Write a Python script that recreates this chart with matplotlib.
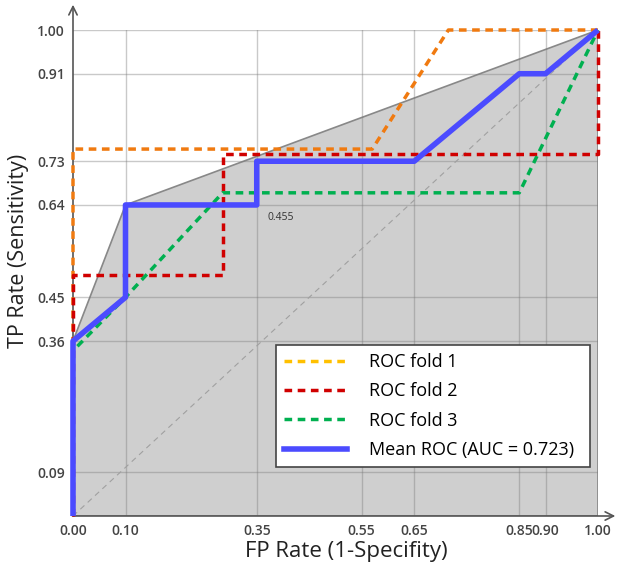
import matplotlib
matplotlib.use("Agg")
import matplotlib.pyplot as plt
from matplotlib.lines import Line2D
from matplotlib.patches import FancyArrowPatch

plt.rcParams['font.family'] = ['Open Sans', 'DejaVu Sans']

# Data
x_ticks = [0.00, 0.10, 0.35, 0.55, 0.65, 0.85, 0.90, 1.00]
y_ticks = [0.09, 0.36, 0.45, 0.64, 0.73, 0.91, 1.00]

fold1_fpr = [0.0, 0.0, 0.57, 0.715, 1.0]
fold1_tpr = [0.0, 0.755, 0.755, 1.0, 1.0]

fold2_fpr = [0.0, 0.0, 0.285, 0.285, 1.0, 1.0]
fold2_tpr = [0.0, 0.495, 0.495, 0.745, 0.745, 1.0]

fold3_fpr = [0.0, 0.0, 0.10, 0.285, 0.85, 1.0]
fold3_tpr = [0.0, 0.34, 0.45, 0.665, 0.665, 1.0]

mean_fpr = [0.0, 0.0, 0.10, 0.10, 0.35, 0.35, 0.65, 0.85, 0.90, 1.0]
mean_tpr = [0.0, 0.36, 0.45, 0.64, 0.64, 0.73, 0.73, 0.91, 0.91, 1.0]

hull_fpr = [0.0, 0.0, 0.10, 1.0, 1.0]
hull_tpr = [0.0, 0.36, 0.64, 1.0, 0.0]

labels = ["ROC fold 1", "ROC fold 2", "ROC fold 3", "Mean ROC (AUC = 0.723)"]
annot_text = "0.455"
annot_pos = (0.37, 0.625)

fig = plt.figure(figsize=(6.2, 5.68), dpi=100)
ax = fig.add_axes([73/620, 1-516/568, 525/620, 486/568])
ax.set_xlim(0, 1)
ax.set_ylim(0, 1)

# gray convex hull area
ax.fill(hull_fpr, hull_tpr, facecolor='#cfcfcf', edgecolor='#888888', lw=1.2, zorder=1)

# grid
for xv in x_ticks[1:]:
    ax.axvline(xv, color='#7a7a7a', alpha=0.4, lw=1.0, zorder=1.5)
for yv in y_ticks:
    ax.axhline(yv, color='#7a7a7a', alpha=0.4, lw=1.0, zorder=1.5)

# diagonal
ax.plot([0, 1], [0, 1], ls=(0, (5, 4)), color='#a0a0a0', lw=0.8, zorder=2)

# axis arrows
for end in [(0, 1.052), (1.033, 0)]:
    arr = FancyArrowPatch((0, 0), end, transform=ax.transAxes, arrowstyle='->,head_length=6,head_width=3',
                          color='#555555', lw=1.2, clip_on=False, zorder=2.5,
                          shrinkA=0, shrinkB=0)
    ax.add_patch(arr)

ds = (0, (2.2, 1.6))
ax.plot(fold1_fpr, fold1_tpr, color='#f07a10', lw=2.5, ls=ds, zorder=3, clip_on=False)
ax.plot(fold2_fpr, fold2_tpr, color='#d00000', lw=2.5, ls=ds, zorder=3.1, clip_on=False)
ax.plot(fold3_fpr, fold3_tpr, color='#00b050', lw=2.5, ls=ds, zorder=3.2, clip_on=False)
ax.plot(mean_fpr, mean_tpr, color='#4b4bff', lw=4, zorder=4, solid_capstyle='butt', clip_on=False)

ax.text(annot_pos[0], annot_pos[1], annot_text, fontsize=7.5, color='#333333', va='top', ha='left', zorder=5)

for s in ax.spines.values():
    s.set_visible(False)

ax.set_xticks(x_ticks)
ax.set_xticklabels([f"{v:.2f}" for v in x_ticks])
ax.set_yticks(y_ticks)
ax.set_yticklabels([f"{v:.2f}" for v in y_ticks])
ax.tick_params(length=0, labelsize=10, colors='#444444', pad=6)
for t in ax.get_xticklabels() + ax.get_yticklabels():
    t.set_fontweight('semibold')

ax.set_xlabel("FP Rate (1-Specifity)", fontsize=16, color='#222222')
ax.set_ylabel("TP Rate (Sensitivity)", fontsize=15.5, color='#222222')
ax.xaxis.set_label_coords(0.52, -0.052)
ax.yaxis.set_label_coords(-0.083, 0.545)

handles = [
    Line2D([], [], color='#ffc000', lw=2.5, ls=ds),
    Line2D([], [], color='#d00000', lw=2.5, ls=ds),
    Line2D([], [], color='#00b050', lw=2.5, ls=ds),
    Line2D([], [], color='#4b4bff', lw=4),
]
leg = ax.legend(handles, labels, loc='lower left', bbox_to_anchor=(203/525, 49/486, 314/525, 122/486),
                mode='expand', fontsize=13, frameon=True, fancybox=False, framealpha=1,
                edgecolor='#444444', handlelength=3.5, labelspacing=0.62, borderpad=0.45,
                handletextpad=1.2, borderaxespad=0)
leg.get_frame().set_linewidth(1.2)
leg.set_zorder(10)

fig.savefig("out.png", dpi=100)
